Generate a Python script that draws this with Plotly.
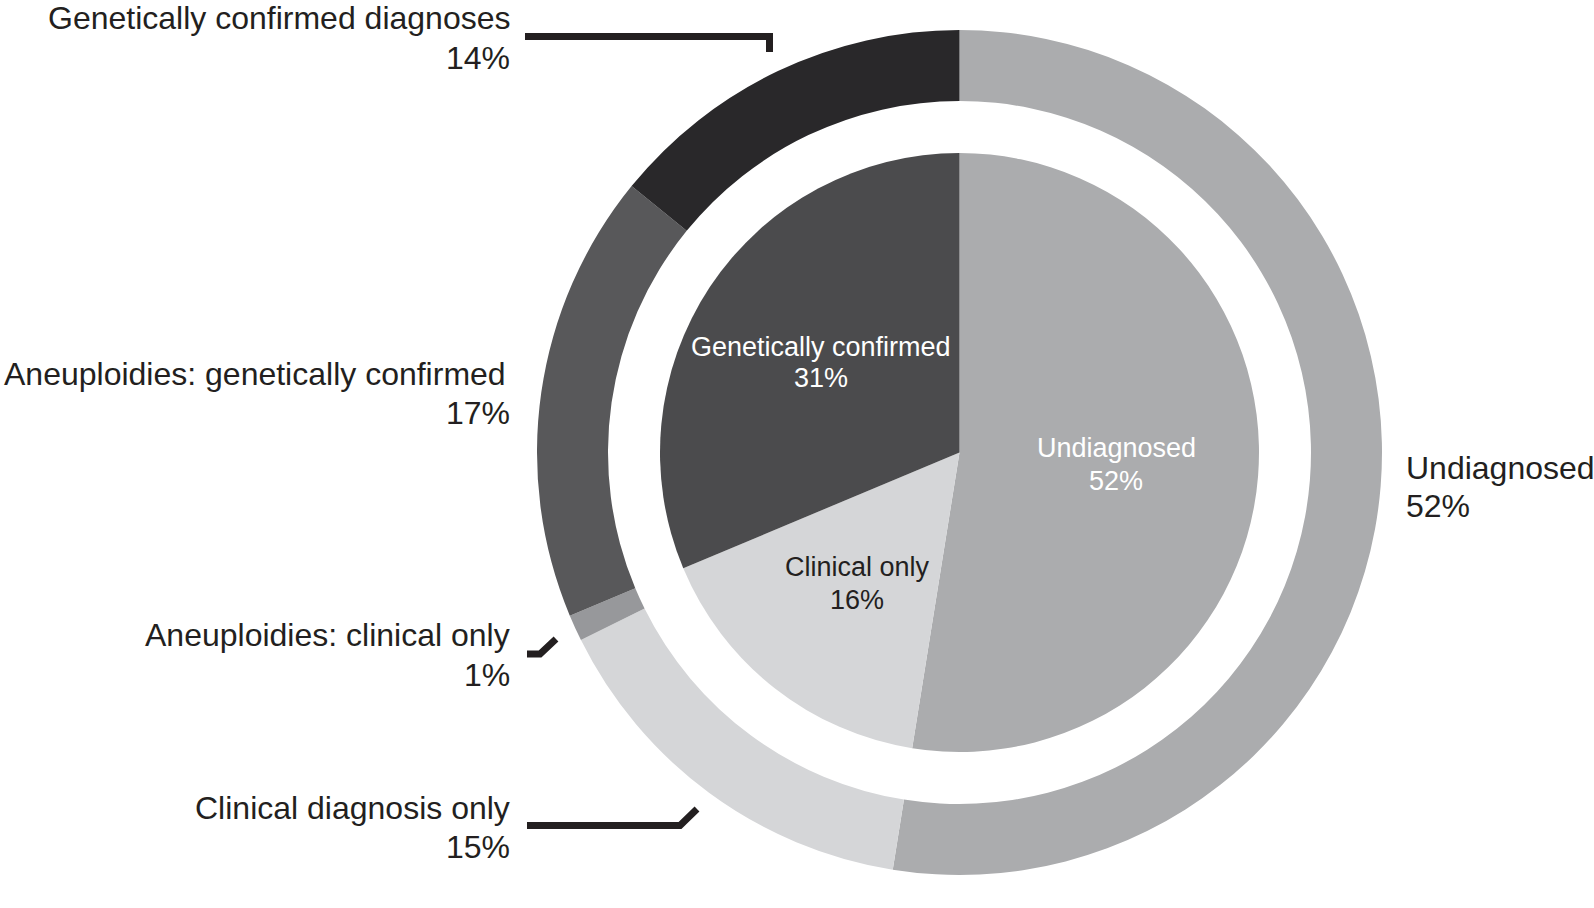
import plotly.graph_objects as go

# ---------------- data ----------------
outer_labels = ["Undiagnosed", "Clinical diagnosis only", "Aneuploidies: clinical only",
                "Aneuploidies: genetically confirmed", "Genetically confirmed diagnoses"]
outer_values = [52, 15, 1, 17, 14]
outer_colors = ["#abacae", "#d5d6d8", "#97989b", "#58585a", "#29282a"]

inner_labels = ["Undiagnosed", "Clinical only", "Genetically confirmed"]
inner_values = [52, 16, 31]
inner_colors = ["#abacae", "#d5d6d8", "#4b4b4d"]
inner_text_colors = ["#ffffff", "#231f20", "#ffffff"]

W, H = 1594, 908
TXT = "#231f20"
FONT = "Liberation Sans"


def px(x):
    return x / W


def py(y):
    return 1 - y / H


fig = go.Figure()

# outer ring
cx, cy, R_out, R_ring_in, R_in = 959.5, 452.5, 422.5, 351.5, 299.5
fig.add_trace(go.Pie(
    labels=outer_labels, values=outer_values, sort=False, direction="clockwise",
    rotation=0, hole=R_ring_in / R_out, textinfo="none", hoverinfo="label+value",
    marker=dict(colors=outer_colors, line=dict(width=0)),
    domain=dict(x=[px(cx - R_out), px(cx + R_out)], y=[py(cy + R_out), py(cy - R_out)]),
    showlegend=False,
))
# inner pie
fig.add_trace(go.Pie(
    labels=inner_labels, values=inner_values, sort=False, direction="clockwise",
    rotation=0, textinfo="none", hoverinfo="label+value",
    marker=dict(colors=inner_colors, line=dict(width=0)),
    domain=dict(x=[px(cx - R_in), px(cx + R_in)], y=[py(cy + R_in), py(cy - R_in)]),
    showlegend=False,
))

annotations = []


def add_label(text, x, y, size, color, xanchor):
    annotations.append(dict(
        text=text, x=px(x), y=py(y), xref="paper", yref="paper",
        xanchor=xanchor, yanchor="middle", showarrow=False,
        font=dict(family=FONT, size=size, color=color),
    ))


# outer labels: (name line y, pct line y, x, anchor)
outer_pos = [
    (468, 506, 1404, "left"),
    (808, 847, 512, "right"),
    (635, 675, 512, "right"),
    (374, 413, 512, "right"),
    (18, 58, 512, "right"),
]
for lab, val, (y1, y2, x, anc) in zip(outer_labels, outer_values, outer_pos):
    xx = x - 4 if lab == "Aneuploidies: genetically confirmed" else x
    add_label(lab, xx, y1, 32, TXT, anc)
    add_label(f"{val}%", x, y2, 32, TXT, anc)

inner_pos = [
    (1116, 448, 481),
    (857, 567, 600),
    (821, 347, 378),
]
for lab, val, col, (x, y1, y2) in zip(inner_labels, inner_values, inner_text_colors, inner_pos):
    add_label(lab, x, y1, 27, col, "center")
    add_label(f"{val}%", x, y2, 27, col, "center")

# leader lines (pixel points)
leaders = [
    [(525, 36.5), (769.5, 36.5), (769.5, 52)],
    [(527, 654), (540, 654), (556, 639)],
    [(527, 825.5), (680, 825.5), (697, 809)],
]
shapes = []
for pts in leaders:
    path = "M " + " L ".join(f"{px(x):.5f},{py(y):.5f}" for x, y in pts)
    shapes.append(dict(type="path", path=path, xref="paper", yref="paper",
                       line=dict(color=TXT, width=7)))

fig.update_layout(
    width=W, height=H, margin=dict(l=0, r=0, t=0, b=0),
    paper_bgcolor="white", plot_bgcolor="white",
    annotations=annotations, shapes=shapes, showlegend=False,
)

fig.write_html("out.html", config={"displayModeBar": False},
               post_script="document.body.style.margin='0';document.body.style.overflow='hidden';")
